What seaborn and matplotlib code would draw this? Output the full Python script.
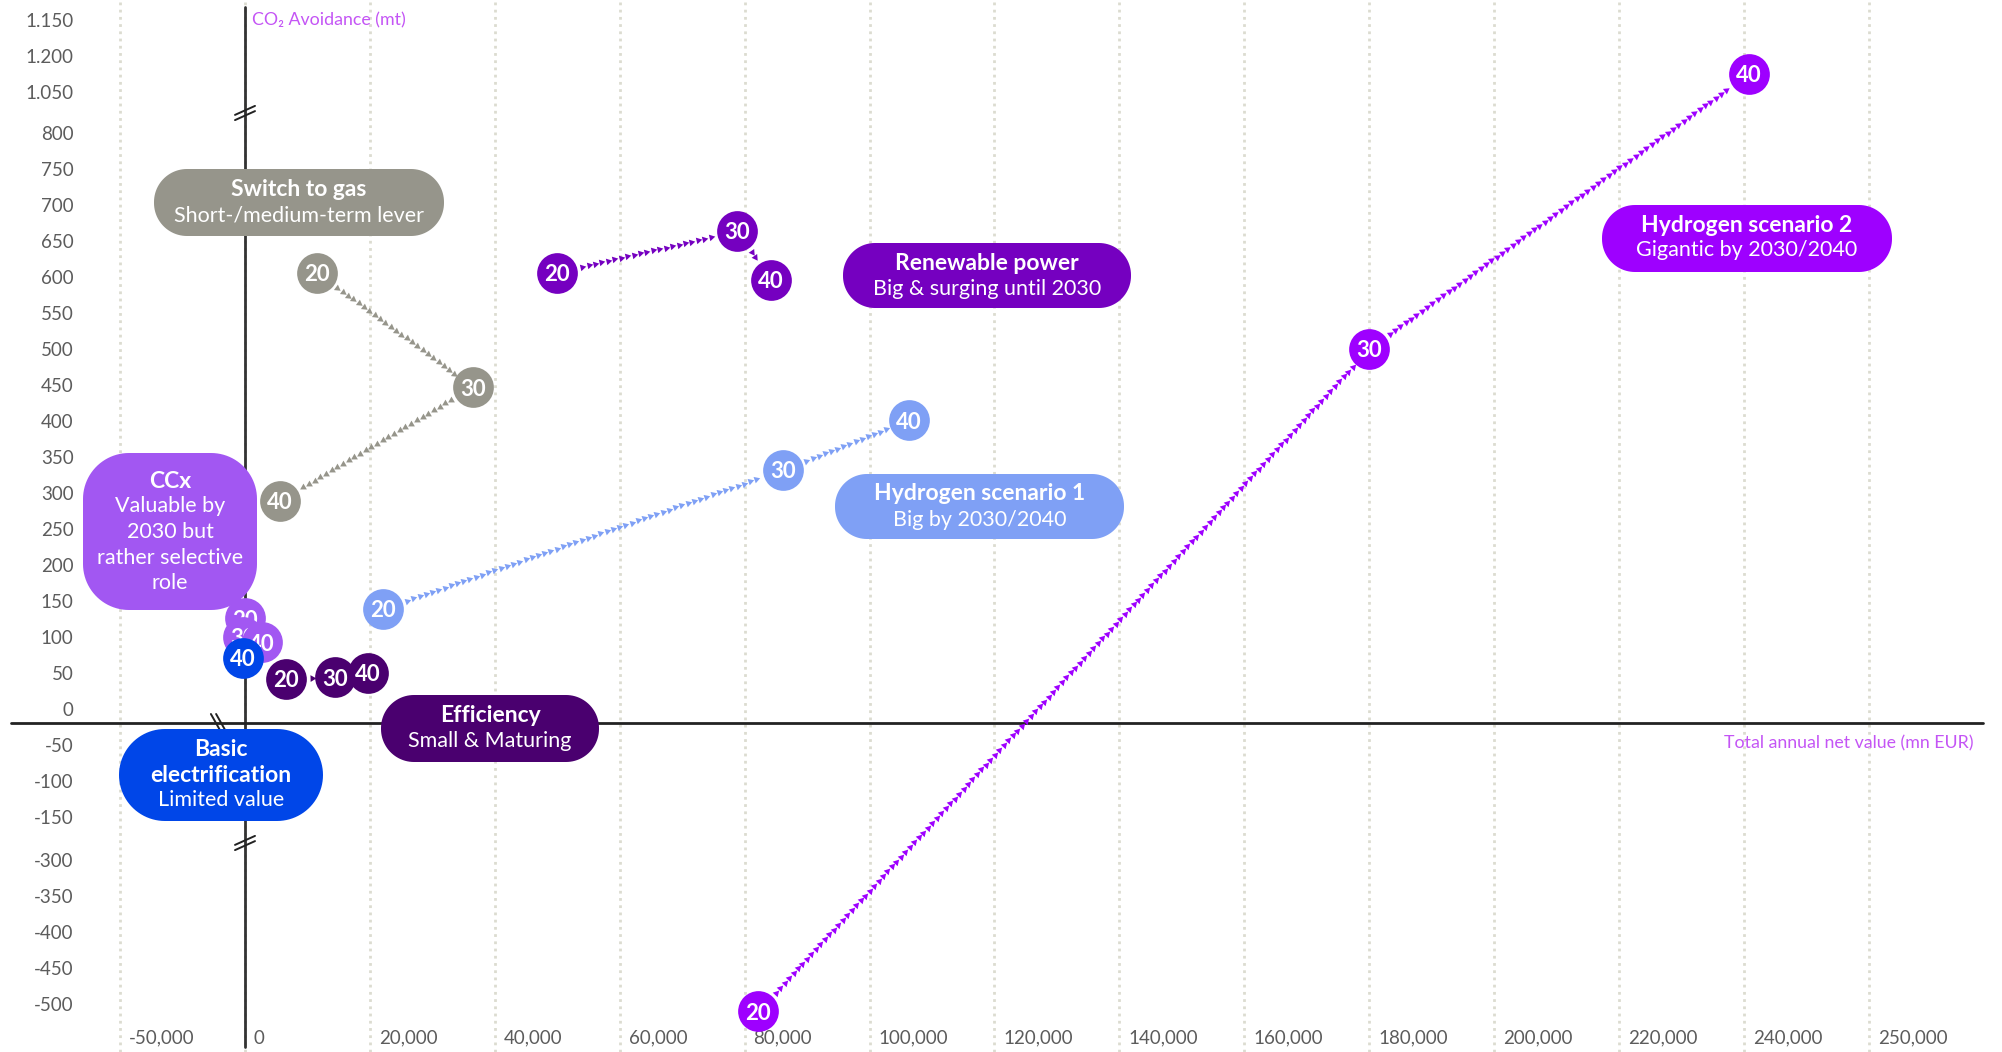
import numpy as np
import pandas as pd
import matplotlib
matplotlib.use("Agg")
import matplotlib.pyplot as plt
import matplotlib.transforms as mtransforms
from matplotlib.patches import Polygon
from matplotlib.lines import Line2D
import seaborn as sns

# ------------------------------------------------------------------ data
years = ["20", "30", "40"]

gas_x = [11500, 36500, 5600]
gas_y = [606, 447, 289]
renew_x = [50000, 78800, 84200]
renew_y = [606, 664, 596]
h1_x = [22100, 86100, 106300]
h1_y = [139, 332, 401]
h2_x = [82200, 180000, 240400]
h2_y = [-510, 500, 1075]
eff_x = [6600, 14400, 19700]
eff_y = [42, 44, 50]
ccx_x = [0, -800, 2700]
ccx_y = [126, 100, 93]
basic_x = [-800]
basic_y = [71]
basic_years = ["40"]

series_names = ["Switch to gas", "Renewable power", "Hydrogen scenario 1",
                "Hydrogen scenario 2", "Efficiency", "CCx", "Basic electrification"]
series_colors = ["#96958B", "#7500C0", "#7FA0F5", "#9E00FF", "#4A006F", "#A257F2", "#0046E8"]

x_tick_vals = [-50000, 0, 20000, 40000, 60000, 80000, 100000, 120000, 140000,
               160000, 180000, 200000, 220000, 240000, 250000]
x_tick_labels = ["-50,000", "0", "20,000", "40,000", "60,000", "80,000", "100,000",
                 "120,000", "140,000", "160,000", "180,000", "200,000", "220,000",
                 "240,000", "250,000"]
y_tick_vals = [-500, -450, -400, -350, -300, -150, -100, -50, 0, 50, 100, 150, 200,
               250, 300, 350, 400, 450, 500, 550, 600, 650, 700, 750, 800, 1050, 1100, 1150]
y_tick_labels = ["-500", "-450", "-400", "-350", "-300", "-150", "-100", "-50", "0",
                 "50", "100", "150", "200", "250", "300", "350", "400", "450", "500",
                 "550", "600", "650", "700", "750", "800", "1.050", "1.200", "1.150"]

# broken-axis scale breakpoints (data value -> visual unit)
x_break_data = [-50000, 0, 240000, 250000]
x_break_vis = [-1, 0, 12, 13]
y_break_data = [-500, -300, -150, 0, 800, 1050, 1150]
y_break_vis = [-8.2, -4.2, -3, 0, 16, 17.15, 19.15]

rows = []
for name, xs, ys, yrs in [
    (series_names[0], gas_x, gas_y, years),
    (series_names[1], renew_x, renew_y, years),
    (series_names[2], h1_x, h1_y, years),
    (series_names[3], h2_x, h2_y, years),
    (series_names[4], eff_x, eff_y, years),
    (series_names[5], ccx_x, ccx_y, years),
    (series_names[6], basic_x, basic_y, basic_years),
]:
    for xv, yv, yr in zip(xs, ys, yrs):
        rows.append({"series": name, "year": yr, "x": xv, "y": yv})
df = pd.DataFrame(rows)
palette = dict(zip(series_names, series_colors))

# ------------------------------------------------------------------ style
sns.set_theme(style="white")
plt.rcParams["font.family"] = ["Lato", "DejaVu Sans"]

W, H = 2002, 1052
fig = plt.figure(figsize=(W / 100, H / 100), dpi=100)
ax = fig.add_axes([0, 0, 1, 1])
# pixel transform (origin top-left)
pix = mtransforms.Affine2D().scale(1, -1).translate(0, H) + \
    mtransforms.Affine2D().scale(1 / 100) + fig.dpi_scale_trans


def piecewise(xs, vs):
    xs = np.asarray(xs, float)
    vs = np.asarray(vs, float)
    s0 = (vs[1] - vs[0]) / (xs[1] - xs[0])
    s1 = (vs[-1] - vs[-2]) / (xs[-1] - xs[-2])

    def f(a):
        a = np.asarray(a, float)
        out = np.interp(a, xs, vs)
        out = np.where(a < xs[0], vs[0] + (a - xs[0]) * s0, out)
        out = np.where(a > xs[-1], vs[-1] + (a - xs[-1]) * s1, out)
        return out
    return f


x_fwd, x_inv = piecewise(x_break_data, x_break_vis), piecewise(x_break_vis, x_break_data)
y_fwd, y_inv = piecewise(y_break_data, y_break_vis), piecewise(y_break_vis, y_break_data)
ax.set_xscale("function", functions=(x_fwd, x_inv))
ax.set_yscale("function", functions=(y_fwd, y_inv))

X0, XU = 245, 124.9   # pixel of x=0, px per x unit
Y0, YU = 709, 36.0    # pixel of y=0, px per y unit
ax.set_xlim(float(x_inv(-X0 / XU)), float(x_inv((W - X0) / XU)))
ax.set_ylim(float(y_inv((Y0 - H) / YU)), float(y_inv(Y0 / YU)))

for sp in ax.spines.values():
    sp.set_visible(False)

ax.set_xticks(x_tick_vals, x_tick_labels)
ax.set_yticks(y_tick_vals, y_tick_labels)
ax.tick_params(axis="x", length=0, pad=-16, labelsize=13.5, labelcolor="#5c5c5c")
ax.tick_params(axis="y", length=0, pad=-53, labelsize=13.5, labelcolor="#5c5c5c")
off = mtransforms.ScaledTranslation(9 / 100, 0, fig.dpi_scale_trans)
for lab in ax.get_xticklabels():
    lab.set_horizontalalignment("left")
    lab.set_transform(lab.get_transform() + off)

ax.grid(axis="x", color="#DCDCD0", lw=2, linestyle=(0, (1, 1.6)))
ax.grid(axis="y", visible=False)
ax.set_axisbelow(True)

# axis lines
ax.axvline(0, ymin=5 / H, ymax=1 - 7 / H, color="#333333", lw=2, zorder=2)
ax.axhline(-19, xmin=11 / W, xmax=1983 / W, color="#222222", lw=2, zorder=2)


# break marks
def brk(cx, cy, dx, dy, ox, oy):
    for s in (-1, 1):
        ax.add_line(Line2D([cx - dx + s * ox, cx + dx + s * ox],
                           [cy - dy + s * oy, cy + dy + s * oy],
                           transform=pix, color="#222222", lw=1.4, zorder=3))


brk(245, 113, 10, -4.5, 0, 2.6)
brk(245, 843, 10, -4.5, 0, 2.6)
brk(218, 722, 4.5, 8, 2.6, 0)

# axis titles
ax.text(252, 20, "CO\u2082 Avoidance (mt)", transform=pix, color="#C455F5",
        fontsize=12.8, va="center", ha="left")
ax.text(1973, 743, "Total annual net value (mn EUR)", transform=pix, color="#C455F5",
        fontsize=12.8, va="center", ha="right")

# ------------------------------------------------------------------ connectors
R = 20.5
for i, name in enumerate(series_names):
    sub = df[df.series == name]
    pts = ax.transData.transform(np.column_stack([sub.x.values, sub.y.values]))
    col = palette[name]
    for a, b in zip(pts[:-1], pts[1:]):
        d = b - a
        L = np.hypot(*d)
        if L < 2 * R + 6:
            continue
        u = d / L
        ang = np.degrees(np.arctan2(d[1], d[0]))
        ts = np.arange(R + 5, L - R - 2, 6.6)
        p = a + np.outer(ts, u)
        dp = ax.transData.inverted().transform(p)
        ax.plot(dp[:, 0], dp[:, 1], ls="none", marker=(3, 0, ang - 90), ms=5.6,
                color=col, mew=0, zorder=4)

# ------------------------------------------------------------------ points
z = 10
for _, r in df.iterrows():
    sns.scatterplot(x=[r.x], y=[r.y], s=860, color=palette[r.series], linewidth=0,
                    ax=ax, legend=False, zorder=z)
    ax.text(r.x, r.y, r.year, color="white", fontsize=16, fontweight="bold",
            ha="center", va="center_baseline", zorder=z + 1)
    z += 2
ax.set_xlabel("")
ax.set_ylabel("")


# ------------------------------------------------------------------ label boxes
def rounded_poly(x0, y0, x1, y1, r):
    pts = []
    corners = [(x1 - r, y1 - r, 0, 90), (x0 + r, y1 - r, 90, 180),
               (x0 + r, y0 + r, 180, 270), (x1 - r, y0 + r, 270, 360)]
    for cx, cy, a0, a1 in corners:
        t = np.radians(np.linspace(a0, a1, 24))
        pts.extend(zip(cx + r * np.cos(t), cy + r * np.sin(t)))
    return np.array(pts)


boxes = [
    ((154, 169, 444, 236), series_colors[0], 33,
     [("Switch to gas", "bold", 190), ("Short-/medium-term lever", "normal", 215)]),
    ((843, 243, 1131, 308), series_colors[1], 32,
     [("Renewable power", "bold", 263), ("Big & surging until 2030", "normal", 289)]),
    ((835, 474, 1124, 539), series_colors[2], 32,
     [("Hydrogen scenario 1", "bold", 493), ("Big by 2030/2040", "normal", 520)]),
    ((1602, 205, 1892, 272), series_colors[3], 33,
     [("Hydrogen scenario 2", "bold", 225), ("Gigantic by 2030/2040", "normal", 250)]),
    ((381, 695, 599, 762), series_colors[4], 33,
     [("Efficiency", "bold", 716), ("Small & Maturing", "normal", 741)]),
    ((83, 453, 257, 610), series_colors[5], 46,
     [("CCx", "bold", 482), ("Valuable by", "normal", 506), ("2030 but", "normal", 532),
      ("rather selective", "normal", 558), ("role", "normal", 583)]),
    ((119, 729, 323, 821), series_colors[6], 46,
     [("Basic", "bold", 750), ("electrification", "bold", 775), ("Limited value", "normal", 800)]),
]
for (x0, y0, x1, y1), col, rad, lines in boxes:
    patch = Polygon(rounded_poly(x0, y0, x1, y1, rad), closed=True,
                    transform=pix, facecolor=col, edgecolor="none", zorder=30)
    ax.add_patch(patch)
    cx = (x0 + x1) / 2
    for txt, wt, ty in lines:
        ax.text(cx, ty, txt, transform=pix, color="white",
                fontsize=16.5 if wt == "bold" else 15.5, fontweight=wt,
                ha="center", va="center", zorder=31)

fig.savefig("out.png", dpi=100)
